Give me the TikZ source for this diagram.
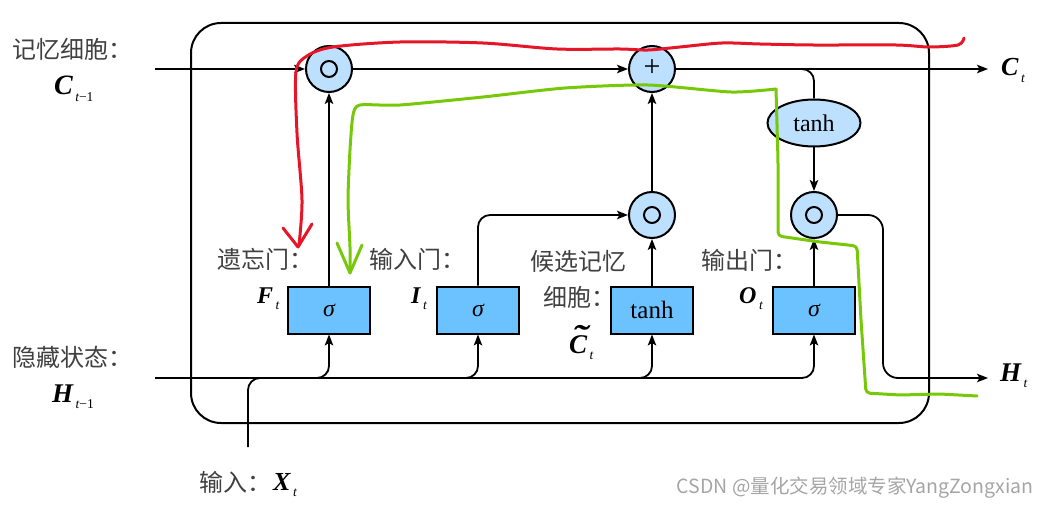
\documentclass[tikz,border=0pt]{standalone}
\usepackage{fontspec}
\setmainfont{Liberation Serif}
\newfontfamily\cjk{Noto Sans CJK SC}
\usetikzlibrary{arrows.meta,shapes.geometric}
\definecolor{boxblue}{RGB}{108,194,255}
\definecolor{cirblue}{RGB}{190,224,255}
\definecolor{lblgray}{RGB}{64,64,64}
\definecolor{penred}{RGB}{228,22,40}
\definecolor{pengreen}{RGB}{118,200,8}
\definecolor{wmgray}{RGB}{165,165,165}
\newcommand{\mlab}[3]{{\fontsize{#3}{#3}\selectfont\bfseries\itshape #1}\kern2.5pt\raisebox{-6.5pt}{\fontsize{13.5}{13.5}\selectfont\itshape #2}}
\newcommand{\tildeC}{\makebox[0pt][l]{\kern3pt\raisebox{6pt}{\scalebox{1.7}[1.2]{\char"02DC}}}C}
\tikzset{
  wire/.style={line width=1.8pt, draw=black},
  arr/.style={wire, -{Stealth[length=11pt,width=8.5pt,inset=2.5pt]}},
  gatebox/.style={draw, line width=2pt, fill=boxblue, minimum width=82pt, minimum height=47pt, inner sep=0pt, font=\fontsize{24}{24}\selectfont},
  opcirc/.style={draw, line width=2pt, fill=cirblue, circle, minimum size=46pt, inner sep=0pt},
  dotop/.style={opcirc, path picture={\draw[line width=2pt] (path picture bounding box.center) circle (8pt); \fill (path picture bounding box.center) circle (3pt);}},
  actell/.style={draw, line width=2pt, fill=cirblue, ellipse, minimum width=93pt, minimum height=47pt, inner sep=0pt, font=\fontsize{24}{24}\selectfont},
  cnlab/.style={text=lblgray, font=\cjk\fontsize{24}{26}\selectfont, inner sep=0pt, anchor=west},
  mathlab/.style={inner sep=0pt, anchor=base west},
  pen/.style={line width=3pt, line cap=round, line join=round},
}
\begin{document}
\begin{tikzpicture}[x=1pt,y=-1pt]
\useasboundingbox (0,0) rectangle (1045,508);
% outer cell
\draw[wire, line width=2pt, rounded corners=30pt] (191,23) rectangle (929,423);

% operator nodes
\node[dotop] (mulF) at (329,69) {};
\node[opcirc, font=\fontsize{30}{30}\selectfont] (add) at (652,69) {\raisebox{1pt}{+}};
\node[dotop] (mulI) at (652,215) {};
\node[dotop] (mulO) at (814,215) {};
\node[actell] (tanhE) at (814,123) {tanh};

% gates
\node[gatebox] (fg) at (329,310) {\itshape σ};
\node[gatebox] (ig) at (478,310) {\itshape σ};
\node[gatebox, font=\fontsize{25}{25}\selectfont] (cg) at (652,310) {tanh};
\node[gatebox] (og) at (814,310) {\itshape σ};

% free ends
\coordinate (cin) at (155,69);
\coordinate (cout) at (988,69);
\coordinate (cbr) at (726,69);
\coordinate (hin) at (155,378);
\coordinate (hturn) at (883,378);
\coordinate (hout) at (988,378);
\coordinate (xin) at (248,447);
\coordinate (xjoin) at (300,378);

% memory line
\draw[arr] (cin) -- (mulF);
\draw[arr] (mulF) -- (add);
\draw[arr] (add) -- (cout);
\draw[wire, rounded corners=12pt] (cbr) -| (tanhE.north);
\draw[arr] (tanhE) -- (mulO);
\draw[arr, rounded corners=15pt] (mulO.east) -| (hturn) -- (hout);

% hidden line
\draw[arr, rounded corners=12pt] (hin) -| (fg.south);
\draw[arr, rounded corners=12pt] (hin) -| (ig.south);
\draw[arr, rounded corners=12pt] (hin) -| (cg.south);
\draw[arr, rounded corners=12pt] (hin) -| (og.south);
\draw[wire, rounded corners=12pt] (xin) |- (xjoin);

% gate outputs
\draw[arr] (fg) -- (mulF);
\draw[arr, rounded corners=12pt] (ig.north) |- (mulI.west);
\draw[arr] (cg) -- (mulI);
\draw[arr] (mulI) -- (add);
\draw[arr] (og) -- (mulO);

% labels
\node[cnlab] (lc) at (12,49) {记忆细胞：};
\node[mathlab] (lcv) at (54,95) {\mlab{C}{t\upshape −1}{28}};
\node[cnlab] (lh) at (12,357) {隐藏状态：};
\node[mathlab] (lhv) at (52,402) {\mlab{H}{t\upshape −1}{27}};
\node[cnlab] (lx) at (199,482) {输入：};
\node[mathlab] (lxv) at (273,490) {\mlab{X}{t}{26}};
\node[cnlab] (lf) at (217,259) {遗忘门：};
\node[mathlab] (lfv) at (257,303) {\mlab{F}{t}{24}};
\node[cnlab] (li) at (369,259) {输入门：};
\node[mathlab] (liv) at (411,303) {\mlab{I}{t}{24}};
\node[cnlab] (lcc) at (530,261) {候选记忆};
\node[cnlab] (lcc2) at (543,297) {细胞：};
\node[mathlab] (lccv) at (569,353) {\mlab{\tildeC}{t}{27}};
\node[cnlab] (lo) at (701,260) {输出门：};
\node[mathlab] (lov) at (739,303) {\mlab{O}{t}{24}};
\node[mathlab] (lct) at (1001,76) {\mlab{C}{t}{26}};
\node[mathlab] (lht) at (1000,381) {\mlab{H}{t}{27}};
\node[text=wmgray, font=\cjk\fontsize{19.5}{20}\selectfont, inner sep=0pt] (wm) at (855,488) {CSDN @量化交易领域专家YangZongxian};

% hand-drawn annotations
\draw[pen, draw=penred] plot[smooth, tension=0.5] coordinates {(964,38) (958,45) (929,47) (896,45) (813,45) (760,44) (722,43) (680,47) (648,50) (620,49) (557,49) (483,43) (400,42) (333,47) (307,56) (296,72) (297,133) (302,200) (299,245)};
\draw[pen, draw=penred] (283,228) -- (298,247) -- (312,224);
\draw[pen, draw=pengreen] plot[smooth, tension=0.4] coordinates {(350,270) (350,247) (348,200) (350,150) (353,115) (360,105) (400,105) (483,97) (565,88) (648,85) (731,92) (776,89)};
\draw[pen, draw=pengreen, rounded corners=4pt] (776,89) -- (778,160) -- (778,236) -- (820,242) -- (857,246) -- (861,320) -- (866,393) -- (900,395) -- (940,394) -- (977,396);
\draw[pen, draw=pengreen] (337,243) -- (350,273) -- (362,245);
\end{tikzpicture}
\end{document}
